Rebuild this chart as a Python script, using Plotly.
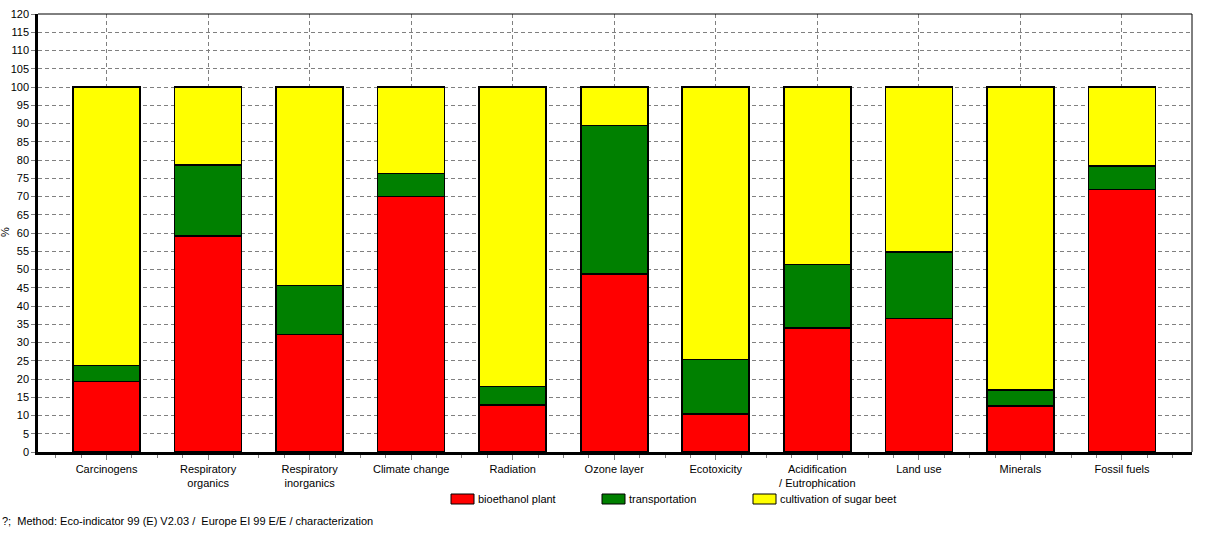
import plotly.graph_objects as go

categories = [
    "Carcinogens", "Respiratory<br>organics", "Respiratory<br>inorganics",
    "Climate change", "Radiation", "Ozone layer", "Ecotoxicity",
    "Acidification<br>/ Eutrophication", "Land use", "Minerals", "Fossil fuels",
]
bioethanol_plant = [19.3, 59.2, 32.2, 70.0, 12.9, 48.7, 10.4, 34.0, 36.6, 12.6, 71.9]
transportation = [4.4, 19.4, 13.4, 6.3, 5.0, 40.8, 14.9, 17.4, 18.2, 4.4, 6.4]
cultivation_sugar_beet = [76.3, 21.4, 54.4, 23.7, 82.1, 10.5, 74.7, 48.6, 45.2, 83.0, 21.7]
y_ticks = list(range(0, 121, 5))

series = [
    ("bioethanol plant", bioethanol_plant, "#FF0000"),
    ("transportation", transportation, "#008000"),
    ("cultivation of sugar beet", cultivation_sugar_beet, "#FFFF00"),
]

FONT = "Liberation Sans, Arial, sans-serif"
x_pos = list(range(len(categories)))
PLOT_W, PLOT_H = 1154, 438

fig = go.Figure()
for name, values, color in series:
    fig.add_trace(go.Bar(
        x=x_pos, y=values, name=name, width=0.66,
        marker=dict(color=color, line=dict(color="#000000", width=1.6)),
    ))

fig.update_layout(
    barmode="stack",
    width=1207,
    height=539,
    margin=dict(l=38, r=15, t=14, b=87, autoexpand=False),
    paper_bgcolor="white",
    plot_bgcolor="white",
    showlegend=False,
    font=dict(family=FONT, size=11, color="#000000"),
)
fig.update_xaxes(
    range=[-0.675, 10.69],
    tickvals=x_pos,
    ticktext=categories,
    showgrid=True,
    gridcolor="#808080",
    griddash="4px,3px",
    gridwidth=1,
    showline=True,
    linecolor="#000000",
    linewidth=2.5,
    zeroline=False,
    ticks="outside",
    ticklen=5,
    tickcolor="#808080",
    minor=dict(dtick=0.25, tick0=0, ticks="outside", ticklen=3, tickcolor="#808080", showgrid=False),
    tickfont=dict(size=11),
    automargin=False,
)
fig.update_yaxes(
    range=[0, 120],
    tickvals=y_ticks,
    showgrid=True,
    gridcolor="#808080",
    griddash="4px,3px",
    gridwidth=1,
    showline=True,
    linecolor="#000000",
    linewidth=2.5,
    zeroline=False,
    ticks="outside",
    ticklen=4,
    tickcolor="#808080",
    tickfont=dict(size=11),
    ticklabeloverflow="allow",
    automargin=False,
)

# thin top and right frame
fig.add_shape(type="line", xref="paper", yref="paper", x0=0, x1=1, y0=1, y1=1,
              line=dict(color="#000000", width=1))
fig.add_shape(type="line", xref="paper", yref="paper", x0=1, x1=1, y0=0, y1=1,
              line=dict(color="#000000", width=1))

# y axis unit
fig.add_annotation(xref="paper", yref="paper", x=-33 / PLOT_W, y=220 / PLOT_H,
                   text="%", textangle=-90, showarrow=False,
                   xanchor="center", yanchor="middle", font=dict(size=11))

# legend drawn below the axis (offsets in px from the plot's left / bottom edge)
legend_x = [413, 564, 715]
for (name, _, color), lx in zip(series, legend_x):
    fig.add_shape(type="rect", xref="paper", yref="paper",
                  x0=lx / PLOT_W, x1=(lx + 23) / PLOT_W,
                  y0=-52 / PLOT_H, y1=-42 / PLOT_H,
                  line=dict(color="#000000", width=1), fillcolor=color)
    fig.add_annotation(xref="paper", yref="paper", x=(lx + 25) / PLOT_W,
                       y=-47 / PLOT_H, text=name, showarrow=False,
                       xanchor="left", yanchor="middle", font=dict(size=11))

fig.add_annotation(xref="paper", yref="paper", x=-38 / PLOT_W, y=-69 / PLOT_H,
                   text="?;  Method: Eco-indicator 99 (E) V2.03 /  Europe EI 99 E/E / characterization",
                   showarrow=False, xanchor="left", yanchor="middle", font=dict(size=11))

fig.write_html("out.html", config={"displayModeBar": False},
               post_script="document.body.style.margin = '0';")
